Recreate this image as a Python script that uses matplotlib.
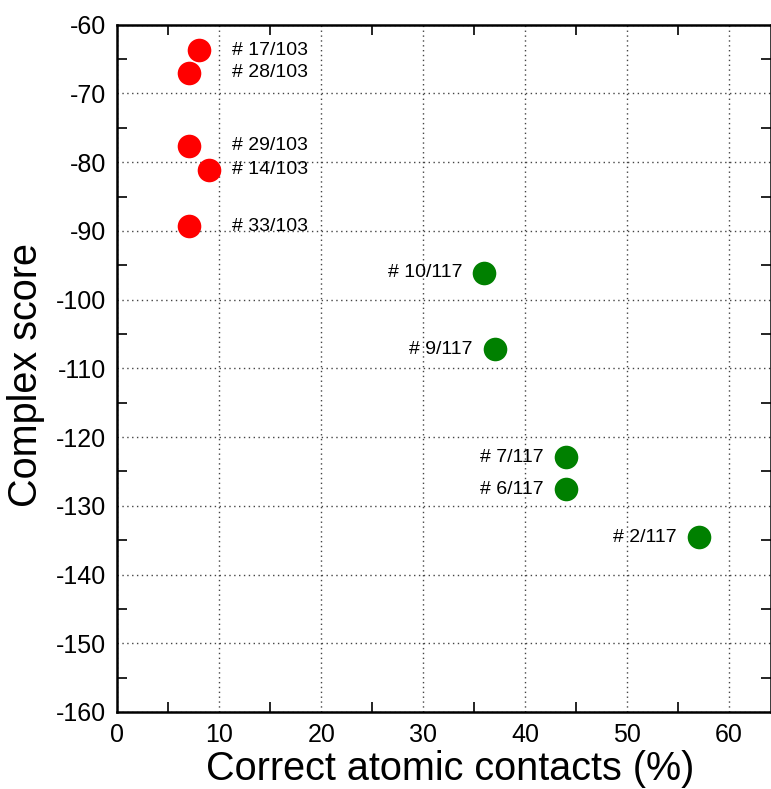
import matplotlib.pyplot as plt
from matplotlib.ticker import MultipleLocator

plt.rcParams["font.family"] = ["Liberation Sans", "DejaVu Sans"]
plt.rcParams["axes.unicode_minus"] = False

# red group (103)
red_x = [8, 7, 7, 9, 7]
red_y = [-63.7, -67.0, -77.6, -81.1, -89.3]
red_labels = ["# 17/103", "# 28/103", "# 29/103", "# 14/103", "# 33/103"]

# green group (117)
green_x = [36, 37, 44, 44, 57]
green_y = [-96.1, -107.2, -122.9, -127.6, -134.6]
green_labels = ["# 10/117", "# 9/117", "# 7/117", "# 6/117", "# 2/117"]

fig = plt.figure(figsize=(7.71, 7.89), dpi=100)
ax = fig.add_axes([0.152, 0.0976, 0.848, 0.871])

ax.plot(red_x, red_y, "o", color="#ff0000", markersize=17, markeredgewidth=0, zorder=3)
ax.plot(green_x, green_y, "o", color="#008000", markersize=17, markeredgewidth=0, zorder=3)

for y, lab in zip(red_y, red_labels):
    ax.text(11.3, y, lab, fontsize=14, ha="left", va="center")

for x, y, lab in zip(green_x, green_y, green_labels):
    ax.annotate(lab, (x, y), xytext=(-16, 0), textcoords="offset points",
                fontsize=14, ha="right", va="center")

ax.set_xlim(0, 64.1)
ax.set_ylim(-160, -60)
ax.xaxis.set_major_locator(MultipleLocator(10))
ax.xaxis.set_minor_locator(MultipleLocator(5))
ax.yaxis.set_major_locator(MultipleLocator(10))
ax.yaxis.set_minor_locator(MultipleLocator(5))

ax.tick_params(which="major", length=0, labelsize=18, pad=8)
ax.tick_params(which="minor", direction="in", length=7, width=1.2,
               top=True, right=True)

ax.grid(True, which="major", color="#444444", linestyle=(0, (1, 2.5)), linewidth=1.0)

for s in ax.spines.values():
    s.set_linewidth(1.8)

ax.set_xlabel("Correct atomic contacts (%)", fontsize=28.5)
ax.set_ylabel("Complex score", fontsize=28.5)
ax.xaxis.set_label_coords(0.51, -0.056)
ax.yaxis.set_label_coords(-0.110, 0.49)

fig.savefig("out.png", dpi=100)
